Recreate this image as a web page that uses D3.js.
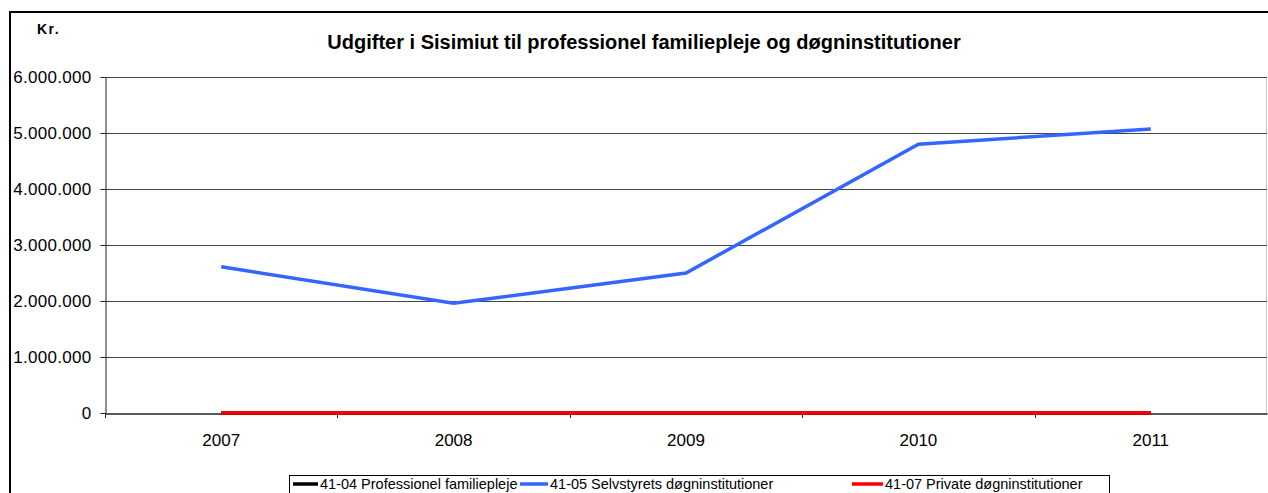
<!DOCTYPE html>
<html>
<head>
<meta charset="utf-8">
<script src="https://cdn.jsdelivr.net/npm/d3@7"></script>
<style>
  body { margin: 0; background: #fff; }
  svg { display: block; font-family: "Liberation Sans", Arial, sans-serif; }
</style>
</head>
<body>
<script>
const width = 1268;
const height = 493;
const margin = { top: 77, right: 1, bottom: 80, left: 105 };
const innerWidth = width - margin.left - margin.right;
const innerHeight = 413 - margin.top;

// data
const years = ["2007", "2008", "2009", "2010", "2011"];
const professionel = [0, 0, 0, 0, 0];
const selvstyrets = [2610000, 1960000, 2500000, 4800000, 5070000];
const private_ = [0, 0, 0, 0, 0];
const yTicks = [0, 1000000, 2000000, 3000000, 4000000, 5000000, 6000000];

const series = [
  { name: "41-04 Professionel familiepleje", values: professionel, color: "#000000" },
  { name: "41-05 Selvstyrets døgninstitutioner", values: selvstyrets, color: "#3366ff" },
  { name: "41-07 Private døgninstitutioner", values: private_, color: "#ff0000" }
];

const fmt = v => d3.format(",")(v).replace(/,/g, ".");
const fontFam = "Liberation Sans, Arial, sans-serif";

const svg = d3.select("body").append("svg")
  .attr("width", width)
  .attr("height", height);

// outer chart border
svg.append("rect")
  .attr("x", 10).attr("y", 12)
  .attr("width", width + 10).attr("height", height + 10)
  .attr("fill", "none").attr("stroke", "#000").attr("stroke-width", 2);

svg.append("text")
  .attr("x", 37).attr("y", 34)
  .attr("font-size", 14).attr("font-weight", "bold")
  .attr("letter-spacing", 1.5)
  .text("Kr.");

svg.append("text")
  .attr("x", 644).attr("y", 49)
  .attr("text-anchor", "middle")
  .attr("font-size", 20).attr("font-weight", "bold")
  .text("Udgifter i Sisimiut til professionel familiepleje og døgninstitutioner");

const g = svg.append("g").attr("transform", `translate(${margin.left},${margin.top})`);

const xScale = d3.scaleBand().domain(years).range([0, innerWidth]);
const yScale = d3.scaleLinear().domain([0, 6000000]).range([innerHeight, 0]);

// plot area right border (light gray)
g.append("line")
  .attr("x1", innerWidth - 0.5).attr("x2", innerWidth - 0.5)
  .attr("y1", 0).attr("y2", innerHeight)
  .attr("stroke", "#c8c8c8");

// gridlines
g.append("g").selectAll("line")
  .data(yTicks.filter(d => d > 0))
  .join("line")
  .attr("x1", 0).attr("x2", innerWidth)
  .attr("y1", d => Math.round(yScale(d)) + 0.5)
  .attr("y2", d => Math.round(yScale(d)) + 0.5)
  .attr("stroke", "#444");

// y axis
const yAxis = g.append("g")
  .attr("transform", "translate(0.5,0)")
  .call(d3.axisLeft(yScale).tickValues(yTicks).tickFormat(fmt).tickSize(5).tickSizeOuter(0));
yAxis.select(".domain").attr("stroke", "#222");
yAxis.selectAll(".tick line").attr("stroke", "#222");
yAxis.selectAll(".tick text")
  .attr("font-family", fontFam)
  .attr("font-size", 17).attr("letter-spacing", 0.3)
  .attr("fill", "#000").attr("x", -14);

// x axis
const xAxis = g.append("g")
  .attr("transform", `translate(0,${innerHeight + 0.5})`)
  .call(d3.axisBottom(xScale).tickSize(0).tickSizeOuter(0));
xAxis.select(".domain").attr("stroke", "#222").attr("stroke-width", 1.5);
xAxis.selectAll(".tick text")
  .attr("font-family", fontFam)
  .attr("font-size", 17).attr("fill", "#000")
  .attr("y", 0).attr("dy", 0)
  .attr("transform", "translate(0,32)");

// category separators (tick marks between bands)
g.append("g").selectAll("line")
  .data(years)
  .join("line")
  .attr("x1", d => Math.round(xScale(d)) + 0.5)
  .attr("x2", d => Math.round(xScale(d)) + 0.5)
  .attr("y1", innerHeight).attr("y2", innerHeight + 5)
  .attr("stroke", "#222");

const line = d3.line()
  .x((d, i) => xScale(years[i]) + xScale.bandwidth() / 2)
  .y(d => yScale(d));

g.append("g").selectAll("path")
  .data(series)
  .join("path")
  .attr("d", d => line(d.values))
  .attr("fill", "none")
  .attr("stroke", d => d.color)
  .attr("stroke-width", 3.5)
  .attr("stroke-linejoin", "miter");

// legend
const legend = svg.append("g");
legend.append("rect")
  .attr("x", 289.5).attr("y", 475.5)
  .attr("width", 820).attr("height", 30)
  .attr("fill", "#fff").attr("stroke", "#000");

const legendX = [293, 520, 852];
const legendLen = [25, 28, 31];
const legendItems = legend.selectAll("g.item")
  .data(series)
  .join("g")
  .attr("class", "item")
  .attr("transform", (d, i) => `translate(${legendX[i]},484)`);
legendItems.append("line")
  .attr("x1", 0).attr("x2", (d, i) => legendLen[i])
  .attr("stroke", d => d.color).attr("stroke-width", 3.5);
legendItems.append("text")
  .attr("x", (d, i) => legendLen[i] + 2).attr("y", 5)
  .attr("font-size", 14.5)
  .text(d => d.name);
</script>
</body>
</html>
